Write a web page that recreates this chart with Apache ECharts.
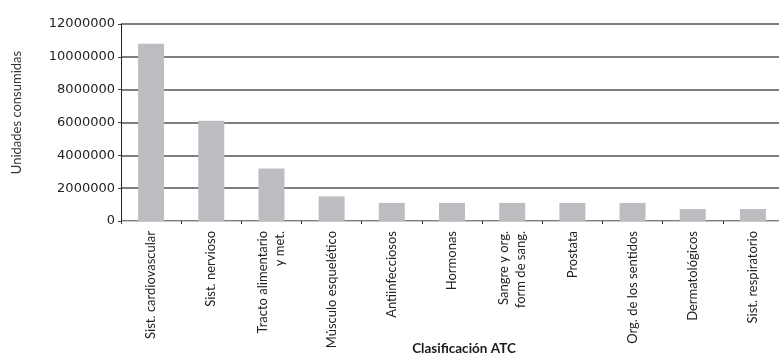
<!DOCTYPE html>
<html>
<head>
<meta charset="utf-8">
<script src="https://cdn.jsdelivr.net/npm/echarts@6/dist/echarts.min.js"></script>
<style>
  html, body { margin: 0; padding: 0; background: #fff; }
  #chart { width: 779px; height: 354px; }
</style>
</head>
<body>
<div id="chart"></div>
<script>
// ATC therapeutic groups and units consumed
const categories = [
  'Sist. cardiovascular',
  'Sist. nervioso',
  'Tracto alimentario\ny met.',
  'Músculo esquelético',
  'Antiinfecciosos',
  'Hormonas',
  'Sangre y org.\nform de sang.',
  'Prostata',
  'Org. de los sentidos',
  'Dermatológicos',
  'Sist. respiratorio'
];
const unidades = [10800000, 6100000, 3200000, 1500000, 1100000, 1100000, 1100000, 1100000, 1100000, 730000, 730000];
const yTicks = [0, 2000000, 4000000, 6000000, 8000000, 10000000, 12000000];

const font = 'Lato, "Noto Sans", sans-serif';
const numFont = '"DejaVu Sans", sans-serif';
const chart = echarts.init(document.getElementById('chart'), null, { renderer: 'canvas' });

chart.setOption({
  animation: false,
  backgroundColor: '#ffffff',
  grid: { left: 121, right: -4, top: 24, bottom: 133, containLabel: false, outerBoundsMode: 'none' },
  xAxis: {
    type: 'category',
    data: categories,
    name: 'Clasificación ATC',
    nameLocation: 'middle',
    nameGap: 121,
    nameMoveOverlap: false,
    nameTextStyle: { fontFamily: font, fontSize: 13.5, fontWeight: 'bold', color: '#1a1a1a', padding: [0, 0, 0, 24] },
    axisLine: { show: true, lineStyle: { color: '#c8c8c8', width: 1 } },
    axisTick: { show: true, length: 3, inside: false, lineStyle: { color: '#333', width: 1 } },
    axisLabel: {
      rotate: 90,
      interval: 0,
      margin: 10,
      fontFamily: font,
      fontSize: 13,
      lineHeight: 17,
      color: '#222'
    },
    splitLine: { show: false }
  },
  yAxis: {
    type: 'value',
    min: yTicks[0],
    max: yTicks[yTicks.length - 1],
    interval: yTicks[1] - yTicks[0],
    name: 'Unidades consumidas',
    nameLocation: 'middle',
    nameGap: 98,
    nameRotate: 90,
    nameMoveOverlap: false,
    nameTextStyle: { fontFamily: font, fontSize: 13, color: '#333', padding: [0, 0, 0, 20] },
    axisLine: { show: true, lineStyle: { color: '#222', width: 1 } },
    axisTick: { show: true, length: 3, lineStyle: { color: '#444', width: 1 } },
    axisLabel: { fontFamily: numFont, fontSize: 13, color: '#222', margin: 6, formatter: v => String(v) },
    splitLine: { show: true, lineStyle: { color: '#555', width: 1.6 } }
  },
  series: [{
    type: 'bar',
    data: unidades,
    barWidth: 26,
    itemStyle: { color: '#bcbdc1' }
  }]
});
</script>
</body>
</html>
